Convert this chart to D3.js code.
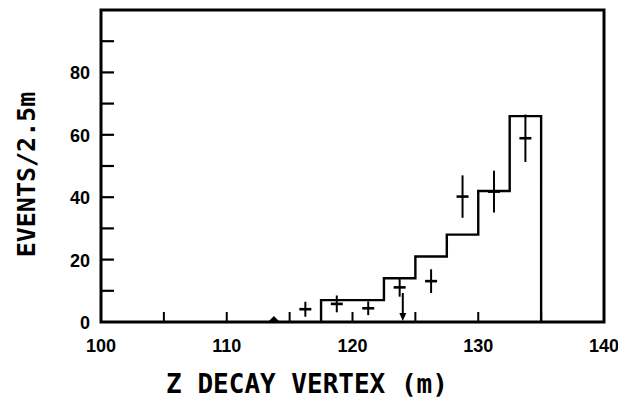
<!DOCTYPE html>
<html>
<head>
<meta charset="utf-8">
<script src="https://cdn.jsdelivr.net/npm/d3@7"></script>
<style>
  html, body { margin: 0; padding: 0; background: #fff; }
  svg { display: block; }
</style>
</head>
<body>
<svg id="chart" width="618" height="398"></svg>
<script>
// ---- data ----
const binEdges = [117.5, 120, 122.5, 125, 127.5, 130, 132.5, 135];
const binCounts = [7, 7, 14, 21, 28, 42, 66];

const pointX = [116.25, 118.75, 121.25, 123.75, 126.25, 128.75, 131.25, 133.75];
const pointY = [4.1, 5.8, 4.4, 11.1, 13.1, 40.2, 41.8, 58.9];
const pointErr = [2.4, 2.7, 2.2, 3.0, 3.8, 6.8, 6.7, 7.6];

const markerX = [113.75];           // small triangle marker on the axis
const arrowX = [124.0];             // downward arrow (limit)
const arrowTop = [9.3];

const xTicks = [105, 110, 115, 120, 125, 130, 135];
const xTickLabels = [100, 110, 120, 130, 140];
const yTicks = [10, 20, 30, 40, 50, 60, 70, 80, 90];
const yTickLabels = [0, 20, 40, 60, 80];

const xTitle = "Z DECAY VERTEX (m)";
const yTitle = "EVENTS/2.5m";

// ---- layout ----
const svg = d3.select("#chart");
const L = 101, R = 604, T = 10, B = 322;
const x = d3.scaleLinear().domain([100, 140]).range([L, R]);
const y = d3.scaleLinear().domain([0, 100]).range([B, T]);
const ink = "#000";

// histogram
const histPts = [[binEdges[0], 0]];
binCounts.forEach((c, i) => {
  histPts.push([binEdges[i], c]);
  histPts.push([binEdges[i + 1], c]);
});
histPts.push([binEdges[binEdges.length - 1], 0]);
svg.append("path")
  .attr("d", d3.line().x(d => x(d[0])).y(d => y(d[1]))(histPts))
  .attr("fill", "none").attr("stroke", ink).attr("stroke-width", 2.4)
  .attr("stroke-linejoin", "miter");

// ticks (inward)
svg.append("g").selectAll("line").data(xTicks).join("line")
  .attr("x1", d => x(d)).attr("x2", d => x(d))
  .attr("y1", B).attr("y2", B - 10)
  .attr("stroke", ink).attr("stroke-width", 2);
svg.append("g").selectAll("line").data(yTicks).join("line")
  .attr("x1", L).attr("x2", L + 13)
  .attr("y1", d => y(d)).attr("y2", d => y(d))
  .attr("stroke", ink).attr("stroke-width", 2.2);

// error-bar crosses
const pts = pointX.map((v, i) => ({ x: v, y: pointY[i], e: pointErr[i] }));
const g = svg.append("g");
g.selectAll(".v").data(pts).join("line")
  .attr("x1", d => x(d.x)).attr("x2", d => x(d.x))
  .attr("y1", d => y(d.y + d.e)).attr("y2", d => y(d.y - d.e))
  .attr("stroke", ink).attr("stroke-width", 2);
g.selectAll(".h").data(pts).join("line")
  .attr("x1", d => x(d.x) - 6).attr("x2", d => x(d.x) + 6)
  .attr("y1", d => y(d.y)).attr("y2", d => y(d.y))
  .attr("stroke", ink).attr("stroke-width", 2.6);

// arrow
arrowX.forEach((ax, i) => {
  svg.append("line")
    .attr("x1", x(ax)).attr("x2", x(ax))
    .attr("y1", y(arrowTop[i])).attr("y2", y(0) - 6)
    .attr("stroke", ink).attr("stroke-width", 2);
  svg.append("path")
    .attr("d", `M${x(ax) - 3.5},${y(0) - 9} L${x(ax) + 3.5},${y(0) - 9} L${x(ax)},${y(0) - 1} Z`)
    .attr("fill", ink);
});

// small triangle marker
markerX.forEach(mx => {
  svg.append("path")
    .attr("d", `M${x(mx) - 6},${y(0)} L${x(mx)},${y(0) - 6} L${x(mx) + 6},${y(0)} Z`)
    .attr("fill", ink);
});

// frame
svg.append("rect")
  .attr("x", L).attr("y", T).attr("width", R - L).attr("height", B - T)
  .attr("fill", "none").attr("stroke", ink).attr("stroke-width", 3);

// tick labels
svg.append("g").selectAll("text").data(xTickLabels).join("text")
  .attr("x", d => x(d)).attr("y", 352)
  .attr("text-anchor", "middle")
  .attr("font-family", "'Liberation Sans', Arial, sans-serif")
  .attr("font-size", 18).attr("font-weight", "bold")
  .attr("fill", ink).text(d => d);
svg.append("g").selectAll("text").data(yTickLabels).join("text")
  .attr("x", 90).attr("y", d => y(d) + 7)
  .attr("text-anchor", "end")
  .attr("font-family", "'Liberation Sans', Arial, sans-serif")
  .attr("font-size", 18).attr("font-weight", "bold")
  .attr("fill", ink).text(d => d);

// axis titles
svg.append("text")
  .attr("x", 307).attr("y", 393)
  .attr("text-anchor", "middle")
  .attr("font-family", "'DejaVu Sans Mono', monospace")
  .attr("font-size", 26).attr("font-weight", "bold")
  .attr("fill", ink).text(xTitle);
svg.append("text")
  .attr("transform", "translate(35,174.5) rotate(-90)")
  .attr("text-anchor", "middle")
  .attr("font-family", "'DejaVu Sans Mono', monospace")
  .attr("font-size", 25).attr("font-weight", "bold")
  .attr("fill", ink).text(yTitle);
</script>
</body>
</html>
